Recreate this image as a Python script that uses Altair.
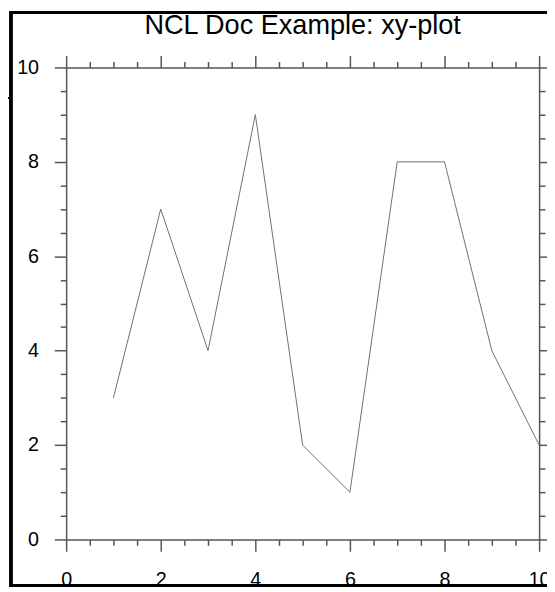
import altair as alt
import pandas as pd

# data
x_vals = [1, 2, 3, 4, 5, 6, 7, 8, 9, 10]
y_vals = [3, 7, 4, 9, 2, 1, 8, 8, 4, 2]
tick_values = [0, 0.5, 1, 1.5, 2, 2.5, 3, 3.5, 4, 4.5, 5, 5.5, 6, 6.5, 7, 7.5, 8, 8.5, 9, 9.5, 10]
title_text = "NCL Doc Example: xy-plot"

df = pd.DataFrame({"x": x_vals, "y": y_vals})

FONT = "Liberation Sans"
AXIS_COLOR = "#555555"
major_test = "datum.value % 2 === 0"
tick_size = {"condition": {"test": major_test, "value": 12}, "value": 6}
label_expr = f"{major_test} ? format(datum.value, 'd') : ''"

xscale = alt.Scale(domain=[0, 10], nice=False, zero=False)
yscale = alt.Scale(domain=[0, 10], nice=False, zero=False)


def axis(orient, labels, pad=10):
    kw = dict(
        orient=orient,
        values=tick_values,
        tickSize=tick_size,
        tickColor=AXIS_COLOR,
        tickWidth=1.5,
        domainColor=AXIS_COLOR,
        domainWidth=1.5,
        grid=False,
        title=None,
        labels=labels,
        labelOverlap=False,
        labelFlush=False,
    )
    if labels:
        kw.update(
            labelExpr=label_expr,
            labelFont=FONT,
            labelFontSize=20,
            labelColor="black",
            labelPadding=pad,
        )
    return alt.Axis(**kw)


base = alt.Chart(df)

line = base.mark_line(color="#707070", strokeWidth=1).encode(
    x=alt.X("x:Q", scale=xscale, axis=axis("bottom", True, pad=19)),
    y=alt.Y("y:Q", scale=yscale, axis=axis("left", True, pad=16)),
)

mirror = base.mark_point(opacity=0).encode(
    x=alt.X("x:Q", scale=xscale, axis=axis("top", False)),
    y=alt.Y("y:Q", scale=yscale, axis=axis("right", False)),
)

frame = base.mark_rect(filled=False, stroke="black", strokeWidth=2.5).encode(
    x=alt.value(-56), x2=alt.value(600), y=alt.value(-56), y2=alt.value(526)
)

stub = base.mark_rule(color="black", strokeWidth=2).encode(
    x=alt.value(-60), x2=alt.value(-56), y=alt.value(31)
)

title = alt.Chart(pd.DataFrame({"t": [title_text]})).mark_text(
    font=FONT, fontSize=27.5, color="black", align="center", baseline="alphabetic"
).encode(x=alt.value(240), y=alt.value(-34), text="t:N")

chart = (
    alt.layer(frame, stub, line, mirror, title)
    .resolve_axis(x="independent", y="independent")
    .properties(
        width=480,
        height=479,
        autosize="none",
        padding={"left": 59, "top": 56, "right": 8, "bottom": 48},
    )
    .configure_view(stroke=None)
)

chart.save("out.html", embed_options={"renderer": "svg", "actions": False})
